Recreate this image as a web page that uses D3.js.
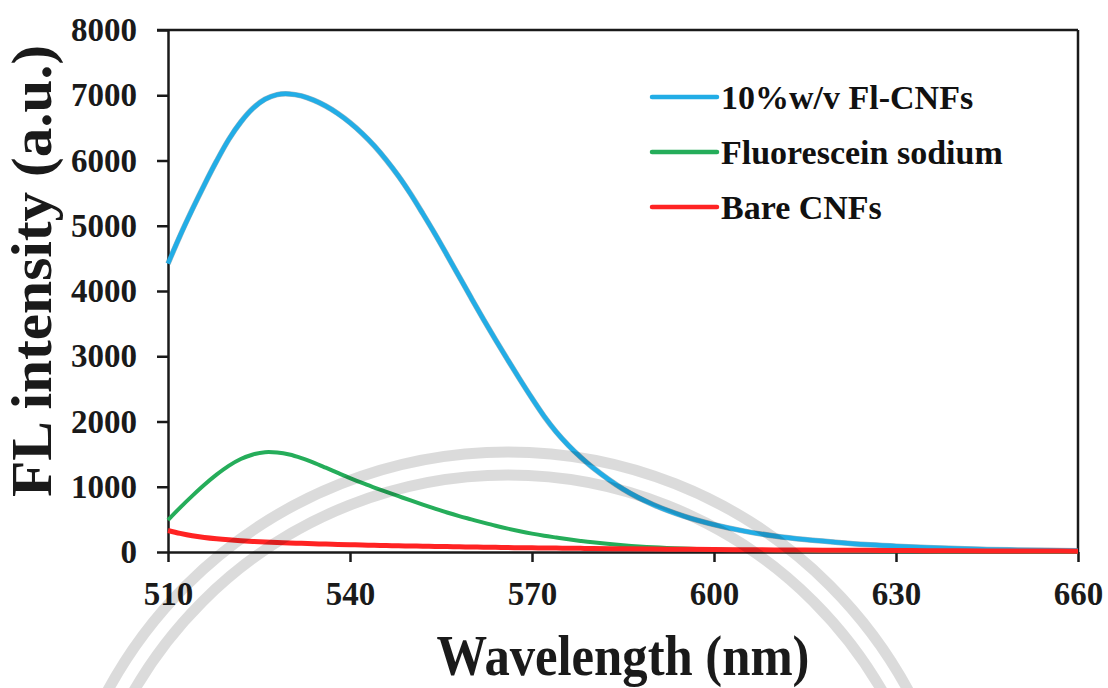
<!DOCTYPE html>
<html>
<head>
<meta charset="utf-8">
<script src="https://cdn.jsdelivr.net/npm/d3@7"></script>
<style>
  body { margin: 0; background: #fff; }
  svg { display: block; font-family: "Liberation Serif", "Times New Roman", serif; font-weight: bold; }
  .axis path, .axis line { stroke: #1a1a1a; stroke-width: 2.5; }
  .axis text { font-size: 33px; fill: #1a1a1a; font-family: "Liberation Serif", serif; font-weight: bold; }
</style>
</head>
<body>
<svg id="chart" width="1108" height="688"></svg>
<script>
// wavelength grid (nm)
var wavelengths = [510,512,514,516,518,520,522,524,526,528,530,532,534,536,538,540,542,544,546,548,
  550,552,554,556,558,560,562,564,566,568,570,572,574,576,578,580,
  585,590,595,600,605,610,615,620,625,630,635,640,645,650,655,660];

// FL intensity (a.u.)
var flCNFs = [4420,4850,5250,5630,5990,6320,6590,6800,6940,7010,7020,6990,6925,6835,6720,6580,6415,6225,6005,5760,
  5485,5185,4875,4550,4220,3890,3565,3250,2945,2645,2355,2080,1840,1635,1455,1295,
  965,725,550,420,320,245,190,150,115,90,68,52,40,32,25,20];
var fluorescein = [490,680,860,1030,1185,1320,1425,1495,1530,1525,1495,1440,1370,1292,1212,1133,1058,988,920,855,
  790,727,665,605,550,500,450,402,358,318,282,250,222,195,170,148,
  105,72,52,40,32,26,21,17,14,12,10,8,7,6,5,5];
var bareCNFs = [330,285,248,222,202,186,173,162,153,146,139,133,127,121,116,111,107,103,99,95,
  92,89,86,83,80,77,74,71,68,66,64,62,60,58,56,54,
  50,46,42,38,35,32,29,27,25,23,21,19,17,16,14,13];

var xTicks = [510,540,570,600,630,660];
var yTicks = [0,1000,2000,3000,4000,5000,6000,7000,8000];

var seriesNames = ["10%w/v Fl-CNFs","Fluorescein sodium","Bare CNFs"];
var seriesColors = ["#22ade6","#25ad5a","#ff2323"];
var seriesWidths = [4.5,4,5];

var margin = {top:30, left:168, right:30, bottom:136};
var W = 1108, H = 688;
var w = W - margin.left - margin.right, h = H - margin.top - margin.bottom;

var svg = d3.select("#chart");
var g = svg.append("g").attr("transform","translate("+margin.left+","+margin.top+")");

var x = d3.scaleLinear().domain([510,660]).range([0,w]);
var y = d3.scaleLinear().domain([0,8000]).range([h,0]);

// frame (top + right)
g.append("line").attr("x1",-11).attr("x2",w).attr("y1",0).attr("y2",0)
  .attr("stroke","#1a1a1a").attr("stroke-width",2.5);
g.append("line").attr("x1",w).attr("x2",w).attr("y1",0).attr("y2",h)
  .attr("stroke","#1a1a1a").attr("stroke-width",2.5);

g.append("g").attr("class","axis")
  .call(d3.axisLeft(y).tickValues(yTicks).tickFormat(d3.format("d")).tickSize(11).tickPadding(20).tickSizeOuter(0));
g.append("g").attr("class","axis").attr("transform","translate(0,"+h+")")
  .call(d3.axisBottom(x).tickValues(xTicks).tickFormat(d3.format("d")).tickSize(10).tickPadding(20).tickSizeOuter(0));

var all = [flCNFs, fluorescein, bareCNFs];
var line = d3.line().x(function(d,i){return x(wavelengths[i]);}).y(function(d){return y(d);})
  .curve(d3.curveCatmullRom.alpha(0.5));

// faint edge under the blue curve
g.append("path").datum(flCNFs).attr("d",line).attr("fill","none")
  .attr("stroke","#2a5f78").attr("stroke-width",5.5).attr("stroke-opacity",0.45);

// draw from back to front: blue, green, red
all.forEach(function(s,i){
  g.append("path").datum(s).attr("d",line).attr("fill","none")
    .attr("stroke",seriesColors[i]).attr("stroke-width",seriesWidths[i])
    .attr("stroke-linejoin","round").attr("stroke-linecap","butt");
});

// legend
var leg = svg.append("g").attr("transform","translate(652,97)");
seriesNames.forEach(function(n,i){
  var row = leg.append("g").attr("transform","translate(0,"+(i*55)+")");
  row.append("line").attr("x1",0).attr("x2",65).attr("y1",0).attr("y2",0)
    .attr("stroke",seriesColors[i]).attr("stroke-width",4.5).attr("stroke-linecap","round");
  row.append("text").attr("x",69).attr("y",12).attr("font-size",34).attr("fill","#111").text(n);
});

// axis titles
svg.append("text").attr("x",623).attr("y",675).attr("text-anchor","middle")
  .attr("font-size",56).attr("fill","#1a1a1a")
  .attr("textLength",373).attr("lengthAdjust","spacingAndGlyphs")
  .text("Wavelength (nm)");
svg.append("text").attr("transform","translate(51,271) rotate(-90)").attr("text-anchor","middle")
  .attr("font-size",56).attr("fill","#1a1a1a")
  .attr("textLength",452).attr("lengthAdjust","spacingAndGlyphs")
  .text("FL intensity (a.u.)");

// faint watermark rings
[455,432].forEach(function(r){
  svg.append("circle").attr("cx",508).attr("cy",907).attr("r",r)
    .attr("fill","none").attr("stroke","#000").attr("stroke-opacity",0.14).attr("stroke-width",11);
});
</script>
</body>
</html>
